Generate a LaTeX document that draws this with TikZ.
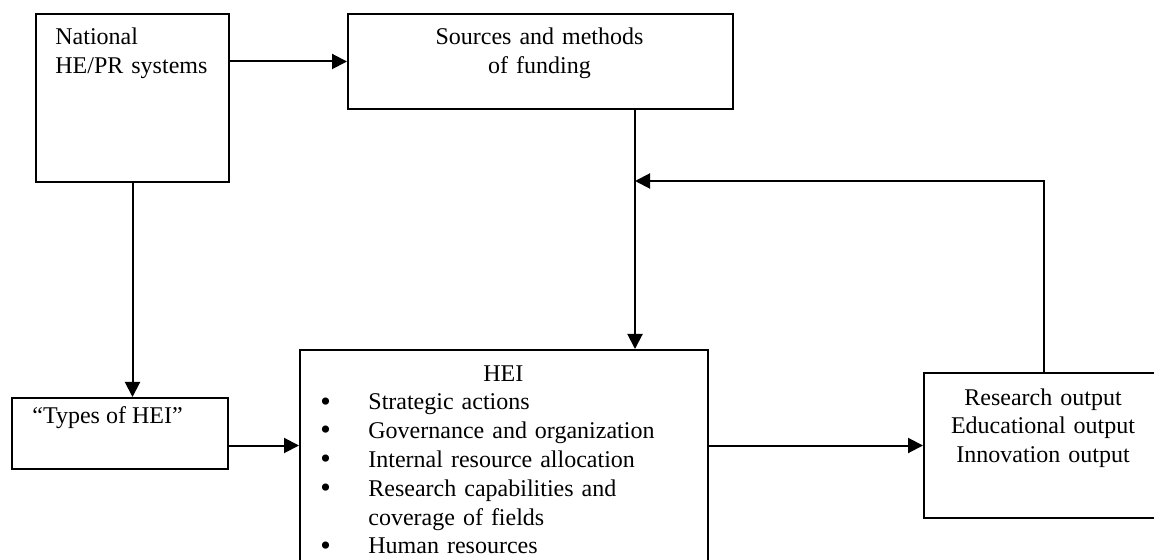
\documentclass[tikz,border=0pt]{standalone}
\usepackage{fontspec}
\setmainfont{Liberation Serif}
\usepackage{tikz}
\usetikzlibrary{arrows.meta}
\newcommand{\heiitem}[1]{\hspace*{10.5pt}\makebox[24pt][l]{\smash{\raisebox{-0.6pt}{\scalebox{1.25}{\textbullet}}}}#1}

\begin{document}
\begin{tikzpicture}[x=0.5pt, y=-0.5pt, >={Triangle[length=7.5pt,width=7.5pt]},
    every node/.style={font=\fontsize{12pt}{14.4pt}\selectfont},
    frame/.style={draw, line width=1pt, inner sep=0pt, anchor=north west},
    txt/.style={inner sep=0pt},
    link/.style={->, line width=1pt}]
\useasboundingbox (0,0) rectangle (1154,560);
\clip (0,0) rectangle (1154,560);

% boxes
\node[frame, minimum width=96.5pt, minimum height=84pt] (nat) at (35,13) {};
\node[frame, minimum width=192.5pt, minimum height=47.5pt] (src) at (347,13) {};
\node[frame, minimum width=108pt, minimum height=35.5pt] (types) at (11,397) {};
\node[frame, minimum width=204pt, minimum height=150pt] (hei) at (299,349) {};
\node[frame, minimum width=120pt, minimum height=72.5pt] (res) at (923,372) {};

% texts
\node[txt, anchor=base west, text width=90pt, align=left] (nattext) at (55,45)
    {National\\HE/PR systems};
\node[txt, anchor=base, text width=190pt, align=center] (srctext) at (539.5,45)
    {Sources and methods\\of funding};
\node[txt, anchor=base west] (typestext) at (32,423) {“Types of HEI”};
\node[txt, anchor=base west, text width=204pt, align=left] (heitext) at (299,381)
    {\makebox[204pt]{HEI}\\
     \heiitem{Strategic actions}\\
     \heiitem{Governance and organization}\\
     \heiitem{Internal resource allocation}\\
     \heiitem{Research capabilities and}\\
     \hspace*{34.5pt}coverage of fields\\
     \heiitem{Human resources}};
\node[txt, anchor=base, text width=118pt, align=center] (restext) at (1043,405)
    {Research output\\Educational output\\Innovation output};

\coordinate (join) at (635,181);

\draw[link] (nat.east |- src.west) -- (src.west);
\draw[link] (nat.south) -- (nat.south |- types.north);
\draw[link] (types.east |- res.west) -- (hei.west |- res.west);
\draw[link] (hei.east |- res.west) -- (res.west);
\draw[link] (src.south -| join) -- (hei.north -| join);
\draw[link] (res.north) |- (join);
\end{tikzpicture}
\end{document}
